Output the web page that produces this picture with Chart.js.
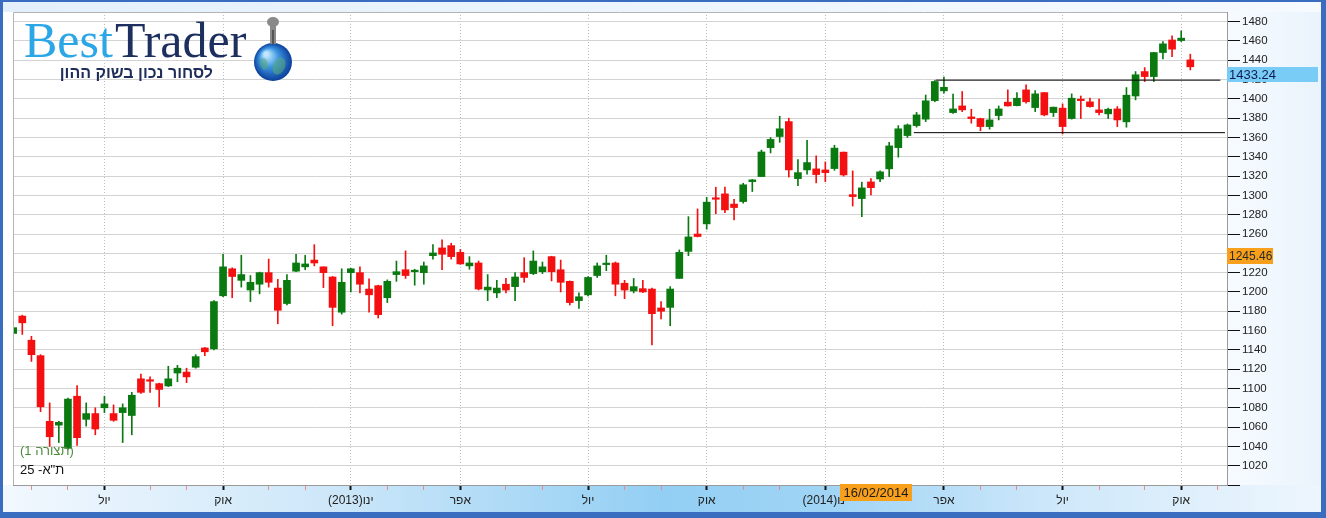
<!DOCTYPE html>
<html><head><meta charset="utf-8">
<script src="https://cdn.jsdelivr.net/npm/chart.js@4.4.1/dist/chart.umd.min.js"></script>
<style>html,body{margin:0;padding:0;background:#fff;overflow:hidden}canvas{display:block}</style>
</head><body>
<canvas id="c" width="1326" height="518"></canvas>
<script>
// Weekly candles of TA-25, one per week starting 22/04/2012 (index 0)
const opens  = [1157,1175,1150,1134,1066,1062,1038,1092,1068,1074,1080,1074,1075,1072,1110,1109,1105,1102.6,1116,1117,
  1122,1142,1141,1196,1224,1212,1202,1208,1220,1204,1188,1221.5,1226,1233,1226,1215.5,1179,1220,1220,1203,
  1206.5,1194,1218,1223,1221,1220,1237.6,1245.6,1248,1241,1227,1230,1202,1199,1208,1205.5,1220,1219,1221,1236.6,
  1223,1211,1191,1197,1217,1228.3,1230,1209,1201,1203.4,1203,1183.4,1184,1214,1242,1260,1270.5,1297.4,1301.6,1291,
  1293.6,1314.3,1319.5,1349.5,1361,1376.5,1317.4,1326.4,1327.5,1326.4,1327.8,1344.8,1300.8,1296.7,1314,1317,1327.5,1349.5,1362,1372.3,
  1379,1398.2,1408.3,1385.8,1392.7,1381.3,1379.6,1371.3,1382.7,1396.6,1393,1409.3,1391,1406.5,1385.8,1390.4,1379.6,1399.7,1396.9,1388.6,
  1384.5,1389.6,1376.2,1403,1428.3,1423.1,1448,1461,1460.4,1440.4];
const highs  = [1164,1176,1154,1135,1085,1066,1090,1103,1085,1080,1092,1083,1084,1096,1115,1112,1105.5,1123,1124,1121,
  1135,1142.5,1191,1239,1225,1238,1217,1220.5,1234,1213,1218,1239,1238,1249,1226,1216,1224,1224.5,1226,1213.5,
  1207,1212.5,1232,1242.5,1223.5,1231,1249,1254,1250.5,1244,1236.6,1232,1218,1212,1214,1220,1235.5,1242.5,1231,1237,
  1233,1211.4,1199,1216,1230,1238,1231,1212,1214,1212,1204,1190,1205.5,1243.5,1278,1286,1298,1308.5,1308.5,1296,
  1312.6,1316.5,1347,1360,1382,1380,1337,1357,1341,1334.7,1352,1345,1325.4,1313.7,1317.4,1325.4,1355,1372.3,1374,1386,
  1404,1419,1422.5,1405,1407.6,1389.3,1380,1389.3,1392.7,1409.3,1406.5,1414.5,1408.6,1406.6,1391.5,1394.8,1405.2,1403,1400.7,1399.7,
  1390.4,1392,1411.7,1428.3,1432.4,1448.2,1459.4,1465.3,1470.5,1446.3];
const lows   = [1156,1156,1128,1076,1040,1044,1037,1041,1061,1052,1075,1066,1044,1052,1095,1096,1081,1102,1107,1106,
  1121,1134,1140,1195,1194,1205,1190,1198,1205,1167,1186.5,1221,1223,1227,1204.5,1165,1177,1200,1199,1179,
  1173,1189,1211,1214,1207,1208,1234,1223,1234,1228.7,1223.5,1202,1191,1194,1199,1191,1210,1218,1219,1211.4,
  1200,1186.5,1183,1196,1215,1222,1196,1193,1199,1199.3,1145,1172,1165,1214,1237.6,1257,1265,1281,1282,1274.6,
  1292,1304,1319.5,1344,1355,1319,1310,1322,1313,1314.3,1326,1320,1289,1278,1300.5,1314.3,1319.5,1339.6,1360,1370.7,
  1376.5,1397,1406,1385,1386.8,1374.8,1367,1368.6,1378.2,1392.5,1392.7,1395.5,1386.8,1382.4,1381.7,1363.7,1379,1379.6,1391.4,1383.4,
  1379.6,1371.3,1370.7,1399,1418,1418,1441.5,1443.8,1459.4,1430];
const closes = [1163,1168,1135,1081,1050,1065,1089,1049,1074,1058,1084,1067,1080,1093,1096,1107.5,1099,1110,1121,1112,
  1133,1138,1190,1226,1216,1218,1210,1220,1210,1181,1212,1230,1229,1230,1220,1184,1210,1224,1208,1197,
  1176.5,1211,1221,1217,1222.5,1227,1240.4,1239,1236.6,1229,1230,1203,1205,1204,1202,1215.5,1215,1232,1226,1221,
  1210,1189,1195,1215,1227,1229.3,1208,1202,1205.5,1200,1177.5,1180,1203,1241,1257,1257.4,1293,1296,1285,1287.4,
  1311,1316.1,1345,1358,1369,1326.4,1323.6,1334,1321.6,1323.6,1349,1321.2,1298.8,1307.8,1308,1324.4,1351.3,1369,1373,1383.4,
  1398,1418,1412,1389.6,1388.6,1379.6,1371.3,1378.2,1389.6,1392.7,1400.7,1397,1405.2,1383.4,1391.4,1371.3,1400.7,1398.2,1392,1385.8,
  1389.3,1378.2,1403.8,1425,1423.1,1448,1457,1451.5,1462.9,1433.24];

// month ticks on the time axis (candle index of the first week of each month)
const monthTickIdx    = [2,6,10,15,19,23,28,32,37,41,45,49,54,58,63,67,71,76,80,84,89,93,97,102,106,110,115,119,124,128,132];
const monthTickLabels = ['','','יול','','','אוק','','','(2013)ינו','','','אפר','','','יול','','','אוק','','','(2014)ינו','','','אפר','','','יול','','','אוק',''];
const priceTicks = [1000,1020,1040,1060,1080,1100,1120,1140,1160,1180,1200,1220,1240,1260,1280,1300,1320,1340,1360,1380,1400,1420,1440,1460,1480];

// drawn trend lines (candle index, price)
const resistanceLine = [[101.1,1419.4],[132.3,1419.4]];
const supportLine    = [[98.7,1365],[132.8,1365]];

const crossValue = 1245.46;
const crossIdx = 95;
const crossDate = '16/02/2014';
const seriesName = 'ת"א- 25';
const layoutName = '(תצורה 1)';

const RED = '#f41010', GREEN = '#0a7a10';
const idx = closes.map((_, i) => i);
const colors = idx.map(i => closes[i] >= opens[i] ? GREEN : RED);
const majorSet = new Set(monthTickIdx.filter((v, i) => monthTickLabels[i] !== ''));

const framePlugin = {
  id: 'frame',
  beforeDraw(chart) {
    const c = chart.ctx, a = chart.chartArea, W = chart.width, H = chart.height;
    c.save();
    c.fillStyle = '#ffffff'; c.fillRect(0, 0, W, H);
    let g = c.createLinearGradient(0, 0, W, 0);
    g.addColorStop(0, '#e3f0fb'); g.addColorStop(0.6, '#eef6fd'); g.addColorStop(1, '#f6fafe');
    c.fillStyle = g; c.fillRect(0, 0, W, a.top);
    g = c.createLinearGradient(a.right, 0, W, 0);
    g.addColorStop(0, '#f7fbff'); g.addColorStop(1, '#e9f3fc');
    c.fillStyle = g; c.fillRect(a.right, a.top, W - a.right, a.bottom - a.top);
    g = c.createLinearGradient(0, 0, W, 0);
    g.addColorStop(0, '#f2f8fe'); g.addColorStop(0.25, '#cde7f9'); g.addColorStop(0.5, '#93cff4');
    g.addColorStop(0.62, '#9fd4f5'); g.addColorStop(0.8, '#cfe8fa'); g.addColorStop(1, '#eef6fd');
    c.fillStyle = g; c.fillRect(0, a.bottom, W, H - a.bottom);
    c.restore();
  },
  afterDraw(chart) {
    const c = chart.ctx, a = chart.chartArea, W = chart.width, H = chart.height;
    const ys = chart.scales.y, xs = chart.scales.x;
    c.save();
    c.strokeStyle = '#b4b4b4'; c.lineWidth = 1;
    c.beginPath(); c.moveTo(a.left + 0.5, a.bottom); c.lineTo(a.left + 0.5, a.top + 0.5); c.lineTo(a.right, a.top + 0.5); c.stroke();

    // logo
    c.textBaseline = 'alphabetic';
    c.font = '50px "Liberation Serif", "DejaVu Serif", serif';
    c.fillStyle = '#2ba6e6'; c.fillText('Best', 24, 57);
    const bw = c.measureText('Best').width;
    c.fillStyle = '#1c2f5f'; c.fillText('Trader', 24 + bw + 2, 57);
    c.font = 'bold 16px "Liberation Sans", Arial, sans-serif';
    c.direction = 'rtl'; c.textAlign = 'right';
    c.fillStyle = '#1f2d5a'; c.fillText('לסחור נכון בשוק ההון', 213, 78);
    c.direction = 'ltr'; c.textAlign = 'left';
    const gx = 273, gy = 62, gr = 19;
    let rg = c.createRadialGradient(gx - 7, gy - 8, 2, gx, gy, gr);
    rg.addColorStop(0, '#bfe8ff'); rg.addColorStop(0.45, '#3a93e0'); rg.addColorStop(1, '#0c3f9a');
    c.fillStyle = rg; c.beginPath(); c.arc(gx, gy, gr, 0, Math.PI * 2); c.fill();
    c.fillStyle = 'rgba(90,170,120,0.55)';
    c.beginPath(); c.ellipse(gx + 6, gy + 4, 6, 9, 0.4, 0, Math.PI * 2); c.fill();
    c.beginPath(); c.ellipse(gx - 9, gy + 2, 4, 6, -0.3, 0, Math.PI * 2); c.fill();
    c.fillStyle = '#8a8a8a';
    c.fillRect(gx - 3, 24, 6, 20);
    c.beginPath(); c.ellipse(gx, 22, 6, 5, 0, 0, Math.PI * 2); c.fill();
    c.fillStyle = '#555'; c.fillRect(gx - 1, 30, 2, 14);

    // legend texts
    c.font = '13px "Liberation Sans", Arial, sans-serif';
    c.textBaseline = 'middle';
    c.direction = 'rtl'; c.textAlign = 'left';
    c.fillStyle = '#4c8c3c'; c.fillText(layoutName, 20, 451);
    c.fillStyle = '#111'; c.fillText(seriesName, 20, 470);
    c.direction = 'ltr';

    // last close marker
    const lastClose = closes[closes.length - 1];
    let y = Math.round(ys.getPixelForValue(lastClose));
    c.fillStyle = '#79ccf6'; c.fillRect(a.right, y, 91, 15);
    c.fillStyle = '#101c52'; c.font = '13px "Liberation Sans", Arial, sans-serif';
    c.textAlign = 'left'; c.fillText(lastClose.toFixed(2), a.right + 2, y + 8);
    // crosshair value marker
    y = Math.round(ys.getPixelForValue(crossValue));
    c.fillStyle = '#f8a01c'; c.fillRect(a.right, y, 46, 16);
    c.fillStyle = '#2a2a2a'; c.font = '12px "Liberation Sans", Arial, sans-serif';
    c.fillText(crossValue.toFixed(2), a.right + 2, y + 8.5);
    // crosshair date marker
    const dx = Math.round(xs.getPixelForValue(crossIdx)) - 40;
    c.fillStyle = '#f8a01c'; c.fillRect(dx, a.bottom - 1, 72, 17);
    c.fillStyle = '#1a1a1a'; c.font = '13px "Liberation Sans", Arial, sans-serif';
    c.textAlign = 'center'; c.fillText(crossDate, dx + 36, a.bottom + 8);

    // outer frame
    c.fillStyle = '#3a6cc0';
    c.fillRect(0, 0, W, 2);
    c.fillRect(0, 0, 3, H);
    c.fillRect(W - 5, 0, 5, H);
    c.fillRect(0, H - 6, W, 6);
    c.restore();
  }
};

new Chart(document.getElementById('c'), {
  type: 'bar',
  data: {
    datasets: [
      { type: 'line', label: 'resistance', data: resistanceLine.map(p => ({x: p[0], y: p[1]})),
        borderColor: '#000', borderWidth: 1, pointRadius: 0, order: 0 },
      { type: 'line', label: 'support', data: supportLine.map(p => ({x: p[0], y: p[1]})),
        borderColor: '#000', borderWidth: 1, pointRadius: 0, order: 0 },
      { label: 'body', data: idx.map(i => ({x: i, y: [opens[i], closes[i]]})),
        backgroundColor: colors, borderWidth: 0, barThickness: 7, grouped: false, minBarLength: 1.5, order: 1 },
      { label: 'wick', data: idx.map(i => ({x: i, y: [lows[i], highs[i]]})),
        backgroundColor: colors, borderWidth: 0, barThickness: 1, grouped: false, order: 2 }
    ]
  },
  options: {
    responsive: false,
    animation: false,
    devicePixelRatio: 1,
    layout: { padding: { left: 13, top: 12, right: 0, bottom: 0 } },
    plugins: { legend: { display: false }, tooltip: { enabled: false } },
    events: [],
    scales: {
      x: {
        type: 'linear', min: -0.02, max: 133.02, position: 'bottom', offset: false,
        afterBuildTicks: s => { s.ticks = monthTickIdx.map(v => ({value: v})); },
        afterFit: s => { s.height = 33; },
        ticks: {
          autoSkip: false, maxRotation: 0, minRotation: 0, padding: 3, color: '#222',
          font: { family: '"Liberation Sans", Arial, sans-serif', size: 12 },
          callback: v => { const k = monthTickIdx.indexOf(v); return k >= 0 ? monthTickLabels[k] : ''; }
        },
        grid: {
          offset: false,
          color: ctx => (ctx.tick && majorSet.has(ctx.tick.value)) ? '#bcbcbc' : 'rgba(0,0,0,0)',
          tickColor: ctx => (ctx.tick && majorSet.has(ctx.tick.value)) ? '#111' : '#ec8a8a',
          tickWidth: ctx => (ctx.tick && majorSet.has(ctx.tick.value)) ? 2 : 1,
          tickLength: 5, lineWidth: 1
        },
        border: { display: true, color: '#9a9a9a', dash: [1, 2] }
      },
      y: {
        type: 'linear', position: 'right', min: 1000, max: 1490,
        afterBuildTicks: s => { s.ticks = priceTicks.map(v => ({value: v})); },
        afterFit: s => { s.width = 99; },
        ticks: {
          padding: 2, color: '#222',
          font: { family: '"Liberation Sans", Arial, sans-serif', size: 11.5 },
          callback: v => v === 1000 ? '' : String(v)
        },
        grid: { color: '#d3d3d3', tickColor: '#111', tickLength: 13, lineWidth: 1 },
        border: { display: true, color: '#9a9a9a' }
      }
    }
  },
  plugins: [framePlugin]
});
</script>
</body></html>
